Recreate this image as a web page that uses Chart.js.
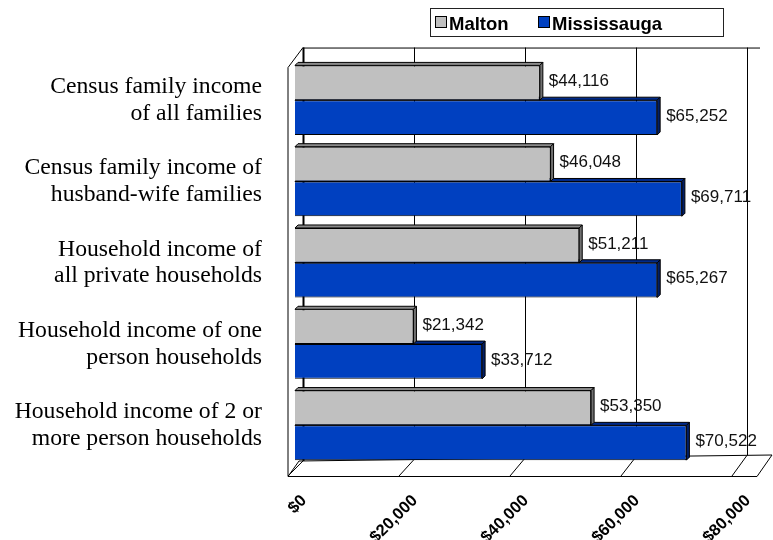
<!DOCTYPE html>
<html>
<head>
<meta charset="utf-8">
<script src="https://cdn.jsdelivr.net/npm/chart.js@4.4.1/dist/chart.umd.min.js"></script>
<style>
html,body{margin:0;padding:0;background:#fff;}
#wrap{width:773px;height:540px;}
</style>
</head>
<body>
<div id="wrap"><canvas id="c" width="773" height="540"></canvas></div>
<script>
const categories = [
  ["Census family income", "of all families"],
  ["Census family income of", "husband-wife families"],
  ["Household income of", "all private households"],
  ["Household income of one", "person households"],
  ["Household income of 2 or", "more person households"]
];
const seriesNames = ["Malton", "Mississauga"];
const malton = [44116, 46048, 51211, 21342, 53350];
const mississauga = [65252, 69711, 65267, 33712, 70522];
const tickValues = [0, 20000, 40000, 60000, 80000];
const tickLabels = ["$0", "$20,000", "$40,000", "$60,000", "$80,000"];

const FRONT = ["#C0C0C0", "#0040C0"];
const TOPF = ["#8A8A8A", "#002A8A"];
const SIDEF = ["#707070", "#001E66"];

function fmt(v){ return "$" + String(v).replace(/\B(?=(\d{3})+(?!\d))/g, ","); }

const deco = {
  id: "deco",
  beforeDatasetsDraw(chart){
    const ctx = chart.ctx, xs = chart.scales.x, a = chart.chartArea;
    const px = v => xs.getPixelForValue(v);
    const xMaxV = tickValues[tickValues.length-1];
    const topB = a.top - 12, topF = a.top + 8, botF = a.bottom + 10;
    const bxL = px(0) + 4, bxR = px(xMaxV) + 33;
    const byL = a.bottom - 5, byR = a.bottom - 11;
    const backY = x => byL + (byR - byL) * (x - bxL) / (bxR - bxL);
    ctx.save();
    ctx.strokeStyle = "#000";
    ctx.lineWidth = 1;
    ctx.beginPath();
    ctx.moveTo(px(0) + 8, topB + 0.5);
    ctx.lineTo(px(xMaxV) + 21, topB + 0.5);
    ctx.stroke();
    tickValues.forEach((v, i) => {
      const x = Math.round(px(v) + 8) + 0.5;
      ctx.lineWidth = i === 0 ? 2 : 1;
      ctx.beginPath();
      ctx.moveTo(x, topB);
      ctx.lineTo(x, backY(x));
      ctx.stroke();
    });
    ctx.lineWidth = 1;
    ctx.beginPath();
    ctx.moveTo(px(0) + 8, topB);
    ctx.lineTo(px(0) - 7, topF);
    ctx.lineTo(px(0) - 7, botF);
    ctx.stroke();
    ctx.beginPath();
    ctx.moveTo(px(0) - 7, botF + 0.5);
    ctx.lineTo(px(xMaxV) + 18, botF + 0.5);
    ctx.lineTo(bxR, byR);
    ctx.lineTo(bxL, byL);
    ctx.closePath();
    ctx.stroke();
    tickValues.forEach(v => {
      const xb = px(v) + 8, xf = px(v) - 7;
      ctx.beginPath();
      ctx.moveTo(xf, botF);
      ctx.lineTo(xb, backY(xb));
      ctx.stroke();
    });
    const d = 3;
    for (let di = chart.data.datasets.length - 1; di >= 0; di--) {
      const meta = chart.getDatasetMeta(di);
      meta.data.forEach(el => {
        const p = el.getProps(["x", "y", "base", "height"], true);
        const top = p.y - p.height / 2, bot = p.y + p.height / 2;
        ctx.fillStyle = TOPF[di];
        ctx.beginPath();
        ctx.moveTo(p.base, top);
        ctx.lineTo(p.base + d, top - d);
        ctx.lineTo(p.x + d, top - d);
        ctx.lineTo(p.x, top);
        ctx.closePath();
        ctx.fill(); ctx.stroke();
        ctx.fillStyle = SIDEF[di];
        ctx.beginPath();
        ctx.moveTo(p.x, top);
        ctx.lineTo(p.x + d, top - d);
        ctx.lineTo(p.x + d, bot - d);
        ctx.lineTo(p.x, bot);
        ctx.closePath();
        ctx.fill(); ctx.stroke();
      });
    }
    ctx.restore();
  },
  afterDatasetsDraw(chart){
    const ctx = chart.ctx;
    ctx.save();
    ctx.font = "17px 'Liberation Sans', Arial, sans-serif";
    ctx.fillStyle = "#111";
    ctx.textAlign = "left";
    ctx.textBaseline = "middle";
    chart.data.datasets.forEach((ds, di) => {
      chart.getDatasetMeta(di).data.forEach((el, i) => {
        const p = el.getProps(["x", "y"], true);
        ctx.fillText(fmt(ds.data[i]), p.x + 9, p.y - 1.5);
      });
    });
    ctx.restore();
  },
  afterDraw(chart){
    const ctx = chart.ctx, xs = chart.scales.x, a = chart.chartArea;
    ctx.save();
    ctx.font = "bold 16.5px 'Liberation Sans', Arial, sans-serif";
    ctx.fillStyle = "#000";
    ctx.textAlign = "right";
    ctx.textBaseline = "middle";
    tickValues.forEach((v, i) => {
      ctx.save();
      ctx.translate(xs.getPixelForValue(v) + 9, a.bottom + 32);
      ctx.rotate(-Math.PI / 4);
      ctx.fillText(tickLabels[i], 0, 0);
      ctx.restore();
    });
    ctx.fillStyle = "#fff";
    ctx.fillRect(430.5, 8.5, 293, 28);
    ctx.strokeStyle = "#222";
    ctx.lineWidth = 1;
    ctx.strokeRect(430.5, 8.5, 293, 28);
    const items = [[435.5, 449], [538.5, 552]];
    ctx.font = "bold 18.5px 'Liberation Sans', Arial, sans-serif";
    ctx.textAlign = "left";
    ctx.textBaseline = "alphabetic";
    chart.data.datasets.forEach((ds, di) => {
      const [bx, tx] = items[di];
      ctx.fillStyle = FRONT[di];
      ctx.fillRect(bx, 16.5, 11, 11);
      ctx.strokeStyle = "#000";
      ctx.strokeRect(bx, 16.5, 11, 11);
      ctx.fillStyle = "#000";
      ctx.fillText(ds.label, tx, 29.5);
    });
    ctx.restore();
  }
};

new Chart(document.getElementById("c"), {
  type: "bar",
  data: {
    labels: categories,
    datasets: [
      { label: seriesNames[0], data: malton, backgroundColor: FRONT[0], borderColor: "#000", borderWidth: 1 },
      { label: seriesNames[1], data: mississauga, backgroundColor: FRONT[1], borderColor: "#000", borderWidth: 1 }
    ]
  },
  options: {
    indexAxis: "y",
    responsive: false,
    animation: false,
    devicePixelRatio: 1,
    layout: { padding: { top: 57, bottom: 74, left: 0, right: 34 } },
    datasets: { bar: { categoryPercentage: 0.856, barPercentage: 1.0 } },
    plugins: { legend: { display: false }, tooltip: { enabled: false } },
    scales: {
      x: { min: 0, max: 80000, display: false },
      y: {
        grid: { display: false, drawTicks: false },
        border: { display: false },
        ticks: {
          color: "#000",
          padding: 33,
          font: { family: "'Liberation Serif', 'Times New Roman', serif", size: 23.7, lineHeight: 1.12 }
        },
        afterFit(scale){ scale.width = 295; }
      }
    }
  },
  plugins: [deco]
});
</script>
</body>
</html>
